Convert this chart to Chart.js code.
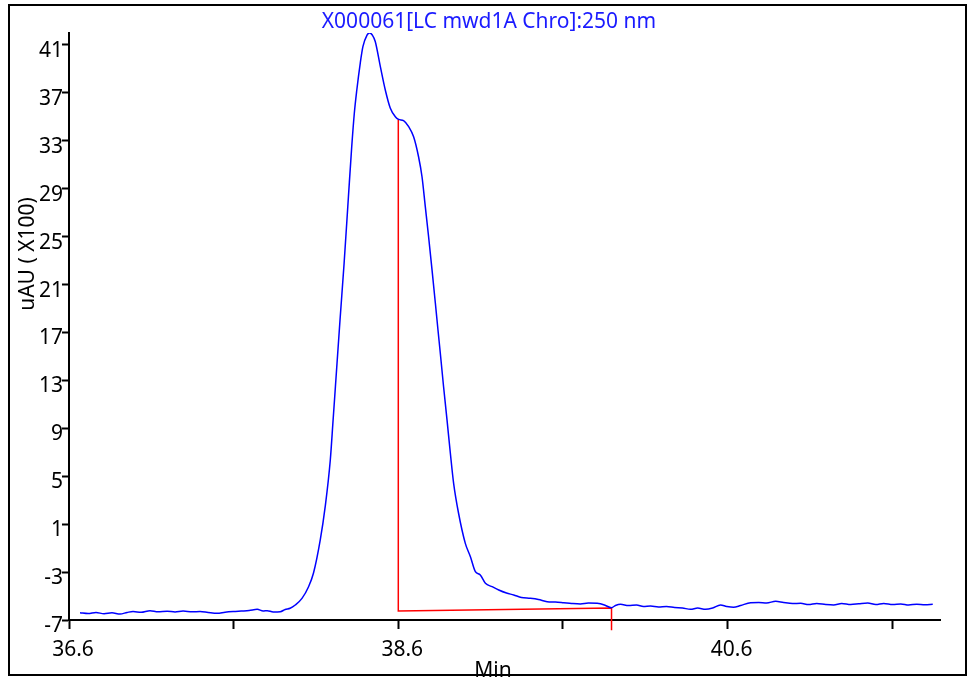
<!DOCTYPE html>
<html>
<head>
<meta charset="utf-8">
<script src="https://cdn.jsdelivr.net/npm/chart.js@4/dist/chart.umd.min.js"></script>
<style>
  html, body { margin: 0; padding: 0; background: #fff; }
  #wrap { width: 968px; height: 677px; position: relative; }
</style>
</head>
<body>
<div id="wrap"><canvas id="chroma"></canvas></div>
<script>
// --- data (time in min, signal in uAU x100) ---
const times = [
  36.667, 36.716, 36.764, 36.813, 36.861, 36.910, 36.953, 36.989, 37.038, 37.092,
  37.141, 37.196, 37.244, 37.293, 37.348, 37.396, 37.445, 37.500, 37.548, 37.597,
  37.646, 37.694, 37.743, 37.779, 37.804, 37.840, 37.883, 37.913, 37.943, 37.974,
  38.015, 38.055, 38.085, 38.126, 38.156, 38.187, 38.204, 38.218, 38.246, 38.271,
  38.297, 38.317, 38.333, 38.348, 38.369, 38.385, 38.410, 38.426, 38.442, 38.460,
  38.491, 38.521, 38.551, 38.582, 38.602, 38.632, 38.663, 38.693, 38.723, 38.744,
  38.764, 38.784, 38.805, 38.825, 38.841, 38.855, 38.875, 38.896, 38.916, 38.936,
  38.966, 39.007, 39.038, 39.068, 39.098, 39.129, 39.170, 39.210, 39.257, 39.301,
  39.348, 39.402, 39.451, 39.504, 39.554, 39.605, 39.652, 39.706, 39.755, 39.808,
  39.852, 39.895, 39.919, 39.950, 39.998, 40.047, 40.089, 40.132, 40.180, 40.229,
  40.278, 40.326, 40.375, 40.418, 40.466, 40.509, 40.557, 40.594, 40.636, 40.679,
  40.740, 40.789, 40.837, 40.892, 40.940, 40.995, 41.044, 41.092, 41.141, 41.196,
  41.244, 41.293, 41.348, 41.396, 41.451, 41.500, 41.548, 41.603, 41.652, 41.700,
  41.749, 41.798, 41.846
];
const signal = [
  -6.39, -6.46, -6.37, -6.48, -6.40, -6.50, -6.37, -6.29, -6.36, -6.22,
  -6.32, -6.27, -6.33, -6.25, -6.32, -6.29, -6.37, -6.44, -6.35, -6.29,
  -6.25, -6.21, -6.11, -6.25, -6.22, -6.33, -6.31, -6.12, -6.02, -5.75,
  -5.19, -4.22, -3.08, -0.32, 2.46, 6.36, 9.69, 12.47, 18.04, 22.80,
  28.31, 32.48, 35.32, 37.24, 39.49, 40.86, 41.83, 42.02, 41.83, 41.29,
  39.19, 37.24, 35.74, 35.01, 34.79, 34.68, 34.18, 33.34, 31.67, 30.00,
  27.50, 24.99, 22.21, 19.46, 17.21, 15.29, 12.47, 9.69, 6.94, 4.41,
  1.91, -0.60, -1.72, -2.97, -3.24, -3.94, -4.22, -4.50, -4.75, -4.91,
  -5.12, -5.19, -5.29, -5.47, -5.50, -5.56, -5.62, -5.66, -5.58, -5.61,
  -5.75, -5.97, -5.79, -5.69, -5.79, -5.75, -5.87, -5.83, -5.91, -5.87,
  -5.96, -6.00, -6.11, -6.00, -6.11, -6.00, -5.75, -5.87, -5.94, -5.79,
  -5.56, -5.54, -5.58, -5.44, -5.54, -5.62, -5.61, -5.71, -5.62, -5.71,
  -5.75, -5.62, -5.71, -5.65, -5.58, -5.71, -5.62, -5.71, -5.66, -5.75,
  -5.68, -5.73, -5.69
];

// integration marks: drop line, baseline, end marker
const markTimes  = [38.6, 38.6, 39.895, 39.895];
const markValues = [34.8, -6.25, -6.0, -7.85];

// axis ticks
const xTicks = [36.6, 37.6, 38.6, 39.6, 40.6, 41.6];
const xTickLabels = ['36.6', '', '38.6', '', '40.6', ''];
const yTicks = [-7, -3, 1, 5, 9, 13, 17, 21, 25, 29, 33, 37, 41];

const chartTitle = 'X000061[LC mwd1A Chro]:250 nm';
const xTitle = 'Min';
const yTitle = 'uAU ( X100)';

const FONT = '"Noto Sans", "Open Sans", sans-serif';
const FONT_SIZE = 21;

const tracePts = times.map((t, i) => ({ x: t, y: signal[i] }));
const markPts = markTimes.map((t, i) => ({ x: t, y: markValues[i] }));

// frame, title, axis titles
const decorations = {
    id: 'decorations',
    afterDraw(chart) {
        const ctx = chart.ctx;
        ctx.save();
        ctx.font = FONT_SIZE + 'px ' + FONT;
        ctx.fillStyle = '#1a1aff';
        ctx.textAlign = 'center';
        ctx.textBaseline = 'middle';
        ctx.fillText(chartTitle, 489, 22);

        ctx.fillStyle = '#000';
        ctx.fillText(xTitle, 493, 671);

        ctx.translate(28, 254);
        ctx.rotate(-Math.PI / 2);
        ctx.fillText(yTitle, 0, 0);
        ctx.restore();

        ctx.save();
        ctx.strokeStyle = '#000';
        ctx.lineWidth = 2;
        ctx.strokeRect(9, 5, 957, 670);
        ctx.restore();
    }
};

const ctx = document.getElementById('chroma').getContext('2d');
new Chart(ctx, {
    type: 'line',
    data: {
        datasets: [{
            data: tracePts,
            borderColor: '#0000ff',
            borderWidth: 1.5,
            pointRadius: 0,
            cubicInterpolationMode: 'monotone'
        }, {
            data: markPts,
            borderColor: '#ff0000',
            borderWidth: 1.5,
            pointRadius: 0,
            tension: 0,
            clip: false
        }]
    },
    options: {
        responsive: true,
        maintainAspectRatio: false,
        animation: false,
        layout: { padding: { left: 0, right: 28, top: 33, bottom: 0 } },
        plugins: { legend: { display: false }, tooltip: { enabled: false }, title: { display: false } },
        scales: {
            x: {
                type: 'linear',
                min: 36.6,
                max: 41.89,
                afterFit: s => { s.height = 57; },
                afterBuildTicks: s => { s.ticks = xTicks.map(v => ({ value: v })); },
                border: { color: '#000', width: 2 },
                grid: { drawOnChartArea: false, tickLength: 9, tickColor: '#000', tickWidth: 2 },
                ticks: {
                    color: '#000',
                    font: { family: FONT, size: FONT_SIZE },
                    padding: 8,
                    labelOffset: 4,
                    maxRotation: 0,
                    autoSkip: false,
                    callback: (v, i) => xTickLabels[i]
                }
            },
            y: {
                type: 'linear',
                min: -7,
                max: 42,
                afterFit: s => { s.width = 69; },
                afterBuildTicks: s => { s.ticks = yTicks.map(v => ({ value: v })); },
                border: { color: '#000', width: 2 },
                grid: { drawOnChartArea: false, tickLength: 7, tickColor: '#000', tickWidth: 2 },
                ticks: {
                    color: '#000',
                    font: { family: FONT, size: FONT_SIZE },
                    padding: -1,
                    labelOffset: 6,
                    autoSkip: false,
                    callback: v => String(v)
                }
            }
        }
    },
    plugins: [decorations]
});
</script>
</body>
</html>
